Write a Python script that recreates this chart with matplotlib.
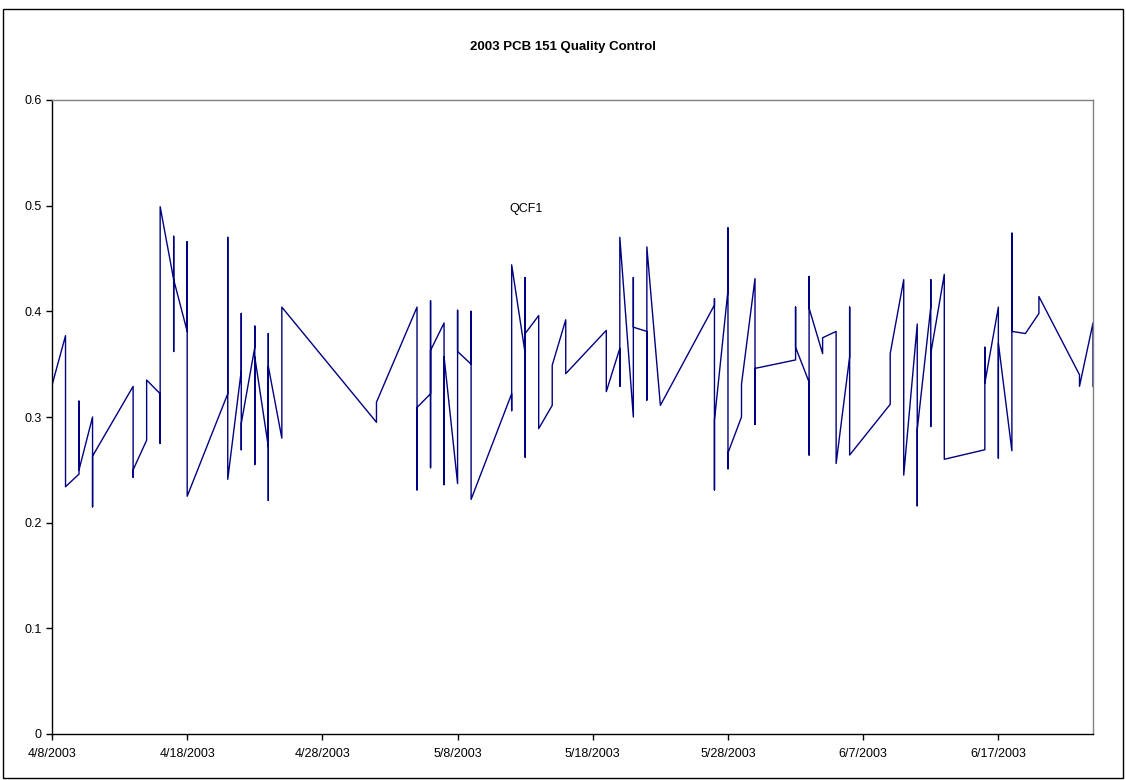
import datetime as dt
import matplotlib
matplotlib.use("Agg")
import matplotlib.pyplot as plt
import matplotlib.dates as mdates
from matplotlib.patches import Rectangle

# Sample dates (several QC runs per day) and PCB 151 results, in run order
sample_dates = [
    "4/8", "4/8",
    "4/9", "4/9", "4/9", "4/9",
    "4/10", "4/10", "4/10",
    "4/11", "4/11", "4/11",
    "4/14", "4/14", "4/14",
    "4/15", "4/15", "4/15", "4/15",
    "4/16", "4/16", "4/16",
    "4/17", "4/17", "4/17", "4/17",
    "4/18", "4/18", "4/18",
    "4/21", "4/21", "4/21",
    "4/22", "4/22", "4/22", "4/22",
    "4/23", "4/23", "4/23", "4/23",
    "4/24", "4/24", "4/24", "4/24",
    "4/25", "4/25", "4/25", "4/25",
    "5/2", "5/2",
    "5/5", "5/5", "5/5",
    "5/6", "5/6", "5/6", "5/6",
    "5/7", "5/7", "5/7",
    "5/8", "5/8", "5/8",
    "5/9", "5/9", "5/9",
    "5/12", "5/12", "5/12",
    "5/13", "5/13", "5/13", "5/13",
    "5/14", "5/14",
    "5/15", "5/15",
    "5/16", "5/16",
    "5/19", "5/19",
    "5/20", "5/20", "5/20",
    "5/21", "5/21", "5/21",
    "5/22", "5/22", "5/22",
    "5/23",
    "5/27", "5/27", "5/27", "5/27",
    "5/28", "5/28", "5/28", "5/28",
    "5/29", "5/29",
    "5/30", "5/30", "5/30",
    "6/2", "6/2", "6/2",
    "6/3", "6/3", "6/3", "6/3",
    "6/4", "6/4",
    "6/5", "6/5",
    "6/6", "6/6", "6/6",
    "6/9", "6/9",
    "6/10", "6/10",
    "6/11", "6/11", "6/11",
    "6/12", "6/12", "6/12", "6/12",
    "6/13", "6/13",
    "6/16", "6/16", "6/16",
    "6/17", "6/17", "6/17",
    "6/18", "6/18", "6/18",
    "6/19",
    "6/20", "6/20",
    "6/23", "6/23",
    "6/24", "6/24",
]

pcb151 = [
    0.225, 0.330,
    0.377, 0.300, 0.285, 0.234,
    0.246, 0.315, 0.250,
    0.300, 0.215, 0.263,
    0.329, 0.243, 0.250,
    0.278, 0.291, 0.282, 0.335,
    0.322, 0.275, 0.499,
    0.430, 0.471, 0.362, 0.430,
    0.381, 0.466, 0.225,
    0.322, 0.470, 0.241,
    0.344, 0.398, 0.269, 0.294,
    0.366, 0.386, 0.255, 0.357,
    0.272, 0.379, 0.221, 0.348,
    0.280, 0.314, 0.366, 0.404,
    0.295, 0.314,
    0.404, 0.231, 0.309,
    0.322, 0.410, 0.252, 0.363,
    0.389, 0.236, 0.357,
    0.237, 0.401, 0.362,
    0.350, 0.400, 0.222,
    0.322, 0.306, 0.444,
    0.360, 0.432, 0.262, 0.379,
    0.396, 0.289,
    0.311, 0.349,
    0.392, 0.341,
    0.382, 0.324,
    0.365, 0.329, 0.470,
    0.300, 0.432, 0.385,
    0.381, 0.316, 0.461,
    0.311,
    0.406, 0.412, 0.231, 0.297,
    0.420, 0.479, 0.251, 0.266,
    0.300, 0.331,
    0.431, 0.293, 0.346,
    0.354, 0.404, 0.366,
    0.333, 0.264, 0.433, 0.403,
    0.360, 0.375,
    0.381, 0.256,
    0.357, 0.404, 0.264,
    0.312, 0.360,
    0.430, 0.245,
    0.388, 0.216, 0.288,
    0.404, 0.430, 0.291, 0.360,
    0.435, 0.260,
    0.269, 0.366, 0.332,
    0.404, 0.261, 0.370,
    0.268, 0.474, 0.381,
    0.379,
    0.398, 0.414,
    0.340, 0.329,
    0.389, 0.329,
]

year = 2003
x_start = "4/8"
x_end = "6/24"
tick_step_days = 10
y_ticks = [0, 0.1, 0.2, 0.3, 0.4, 0.5, 0.6]
title = "2003 PCB 151 Quality Control"
series_label = "QCF1"


def to_date(s):
    m, d = s.split("/")
    return dt.datetime(year, int(m), int(d))


def excel_date(x, pos=None):
    d = mdates.num2date(x)
    return f"{d.month}/{d.day}/{d.year}"


dates = [to_date(s) for s in sample_dates]
start = to_date(x_start)
end = to_date(x_end)

plt.rcParams["font.family"] = ["Liberation Sans", "DejaVu Sans"]

fig = plt.figure(figsize=(11.26, 7.8), dpi=100)
ax = fig.add_axes([52 / 1126, 1 - 734 / 780, (1093 - 52) / 1126, (734 - 100) / 780])

ax.plot(dates, pcb151, color="#000080", lw=1.0)

ax.set_xlim(start, end)
ax.set_ylim(0, 0.6)
ticks = []
t = start
while t <= end:
    ticks.append(t)
    t += dt.timedelta(days=tick_step_days)
ax.set_xticks(ticks)
ax.xaxis.set_major_formatter(plt.FuncFormatter(excel_date))
ax.set_yticks(y_ticks)
ax.set_yticklabels([f"{v:g}" for v in y_ticks])
ax.tick_params(axis="both", direction="out", length=4, width=1, labelsize=9, color="#000000")
ax.tick_params(axis="x", pad=6)

for side in ["top", "right"]:
    ax.spines[side].set_color("#808080")
    ax.spines[side].set_linewidth(1)
for side in ["left", "bottom"]:
    ax.spines[side].set_color("#000000")
    ax.spines[side].set_linewidth(1)

# series name label floating inside the plot
ax.text(to_date("5/13") + dt.timedelta(hours=1), 0.497, series_label,
        ha="center", va="center", fontsize=9)

fig.text(0.5, 1 - 47 / 780, title, ha="center", va="center",
         fontsize=9.5, fontweight="bold")

# outer chart border
fig.patches.append(Rectangle((3 / 1126, 2 / 780), 1120 / 1126, 769 / 780,
                             transform=fig.transFigure, fill=False,
                             edgecolor="black", lw=1))

fig.savefig("out.png", dpi=100)
